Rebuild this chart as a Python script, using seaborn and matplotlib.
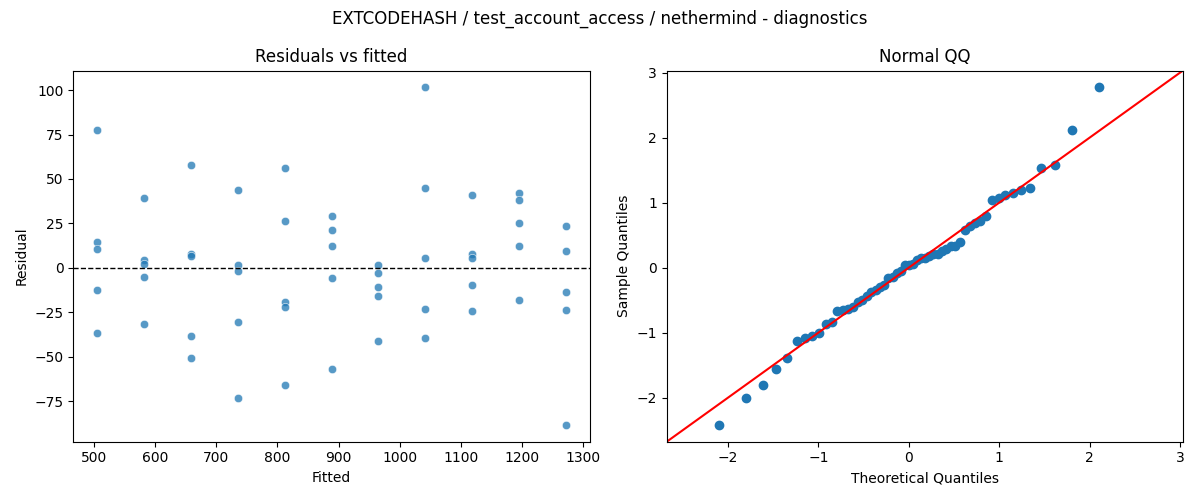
import numpy as np
import pandas as pd
import seaborn as sns
import matplotlib
matplotlib.use('Agg')
import matplotlib.pyplot as plt
from statistics import NormalDist

fitted_levels = [505, 582, 659, 735, 812, 889, 965, 1042, 1119, 1195, 1272]
residual_groups = [
    [77.4, 14.4, 10.3, -12.5, -36.7],
    [39.1, 4.5, 2.1, -5.2, -31.6],
    [57.7, 8.0, 6.6, -38.4, -50.7],
    [43.7, 1.7, -1.9, -30.5, -73.2],
    [56.0, 26.2, -19.1, -22.1, -65.9],
    [29.0, 21.2, 12.2, -5.8, -56.9],
    [1.7, -3.0, -10.9, -15.9, -41.2],
    [101.5, 44.8, 5.4, -23.2, -39.5],
    [40.8, 7.7, 5.4, -9.7, -24.3],
    [42.0, 38.4, 25.1, 12.2, -18.1],
    [23.4, 9.4, -13.7, -23.8, -88.4],
]

rows = []
for f, group in zip(fitted_levels, residual_groups):
    for r in group:
        rows.append({'fitted': f, 'resid': r})
df = pd.DataFrame(rows)

# standardized residuals vs normal quantiles
res = df['resid'].to_numpy()
sample_q = np.sort((res - res.mean()) / res.std(ddof=1))
n = len(sample_q)
nd = NormalDist()
theo_q = np.array([nd.inv_cdf(i / (n + 1)) for i in range(1, n + 1)])

fig, axes = plt.subplots(1, 2, figsize=(12, 5), dpi=100)

ax = axes[0]
sns.scatterplot(data=df, x='fitted', y='resid', ax=ax, alpha=0.75)
ax.axhline(0, color='black', linestyle='--', linewidth=1)
ax.set_title('Residuals vs fitted')
ax.set_xlabel('Fitted')
ax.set_ylabel('Residual')

ax = axes[1]
ax.plot(theo_q, sample_q, 'o', color='#1f77b4', markersize=6)
lo = min(ax.get_xlim()[0], ax.get_ylim()[0])
hi = max(ax.get_xlim()[1], ax.get_ylim()[1])
ax.plot([lo, hi], [lo, hi], color='red')
ax.set_xlim(lo, hi)
ax.set_ylim(lo, hi)
ax.set_title('Normal QQ')
ax.set_xlabel('Theoretical Quantiles')
ax.set_ylabel('Sample Quantiles')

fig.suptitle('EXTCODEHASH / test_account_access / nethermind - diagnostics')
fig.tight_layout()
fig.savefig('out.png')
